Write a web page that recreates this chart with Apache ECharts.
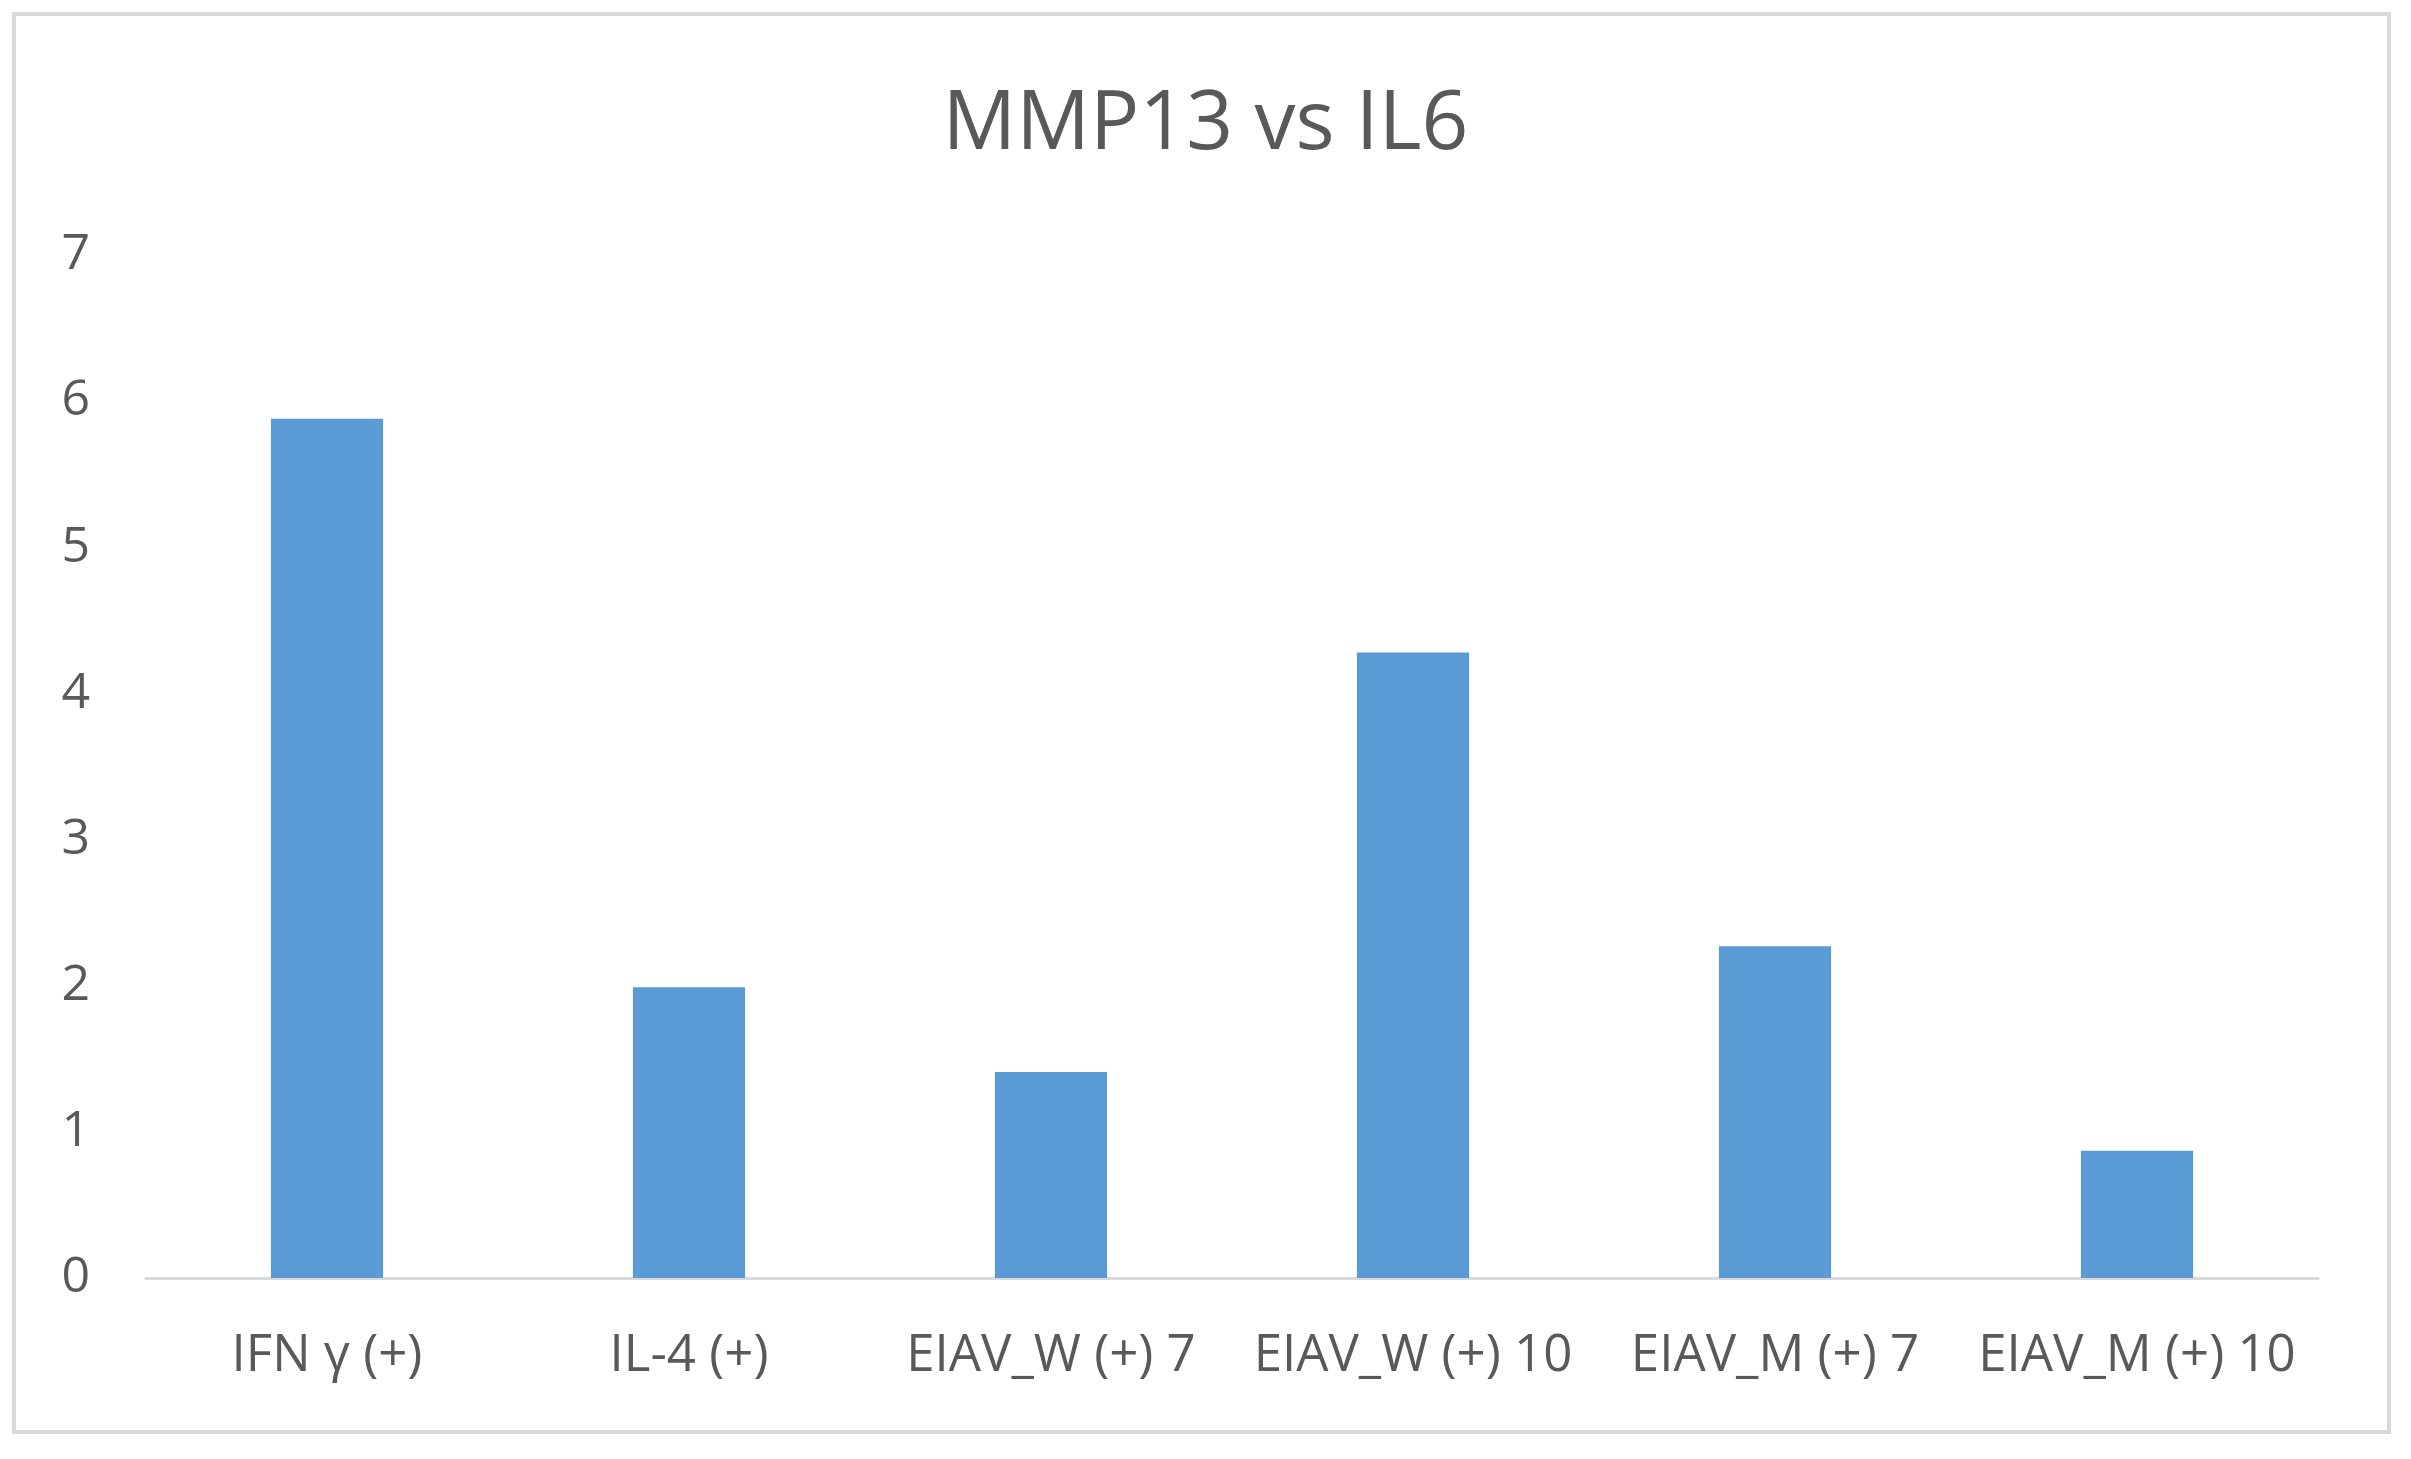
<!DOCTYPE html>
<html>
<head>
<meta charset="utf-8">
<script src="https://cdn.jsdelivr.net/npm/echarts@6/dist/echarts.min.js"></script>
<style>
  html, body { margin: 0; padding: 0; background: #fff; }
  #frame {
    position: absolute; left: 12px; top: 12px;
    width: 2379px; height: 1422px;
    border: 4px solid #d9d9d9; box-sizing: border-box;
  }
  #chart { position: absolute; left: 0; top: 0; width: 2411px; height: 1459px; }
</style>
</head>
<body>
<div id="frame"></div>
<div id="chart"></div>
<script>
var categories = ['IFN γ (+)', 'IL-4 (+)', 'EIAV_W (+) 7', 'EIAV_W (+) 10', 'EIAV_M (+) 7', 'EIAV_M (+) 10'];
var values = [5.88, 1.99, 1.41, 4.28, 2.27, 0.87];
var yTicks = [0, 1, 2, 3, 4, 5, 6, 7];

var textColor = '#595959';
var fontName = '"Open Sans", "Noto Sans", sans-serif';

var chart = echarts.init(document.getElementById('chart'));

var option = {
  backgroundColor: 'transparent',
  animation: false,
  title: {
    text: 'MMP13 vs IL6',
    left: 'center',
    top: 80,
    textStyle: {
      color: textColor,
      fontSize: 82,
      fontWeight: 'normal',
      fontFamily: fontName
    }
  },
  grid: {
    left: 146,
    right: 93,
    top: 255,
    bottom: 181,
    containLabel: false
  },
  xAxis: {
    type: 'category',
    data: categories,
    axisLine: { lineStyle: { color: '#d9d9d9', width: 3 } },
    axisTick: { show: false },
    axisLabel: {
      interval: 0,
      margin: 53,
      color: textColor,
      fontSize: 51,
      fontFamily: fontName
    }
  },
  yAxis: {
    type: 'value',
    min: yTicks[0],
    max: yTicks[yTicks.length - 1],
    interval: 1,
    axisLine: { show: false },
    axisTick: { show: false },
    splitLine: { show: false },
    axisLabel: {
      margin: 56,
      color: textColor,
      fontSize: 50,
      fontFamily: fontName
    }
  },
  series: [{
    type: 'bar',
    data: values,
    barWidth: '31%',
    itemStyle: { color: '#5b9bd5' }
  }]
};

chart.setOption(option);
</script>
</body>
</html>
